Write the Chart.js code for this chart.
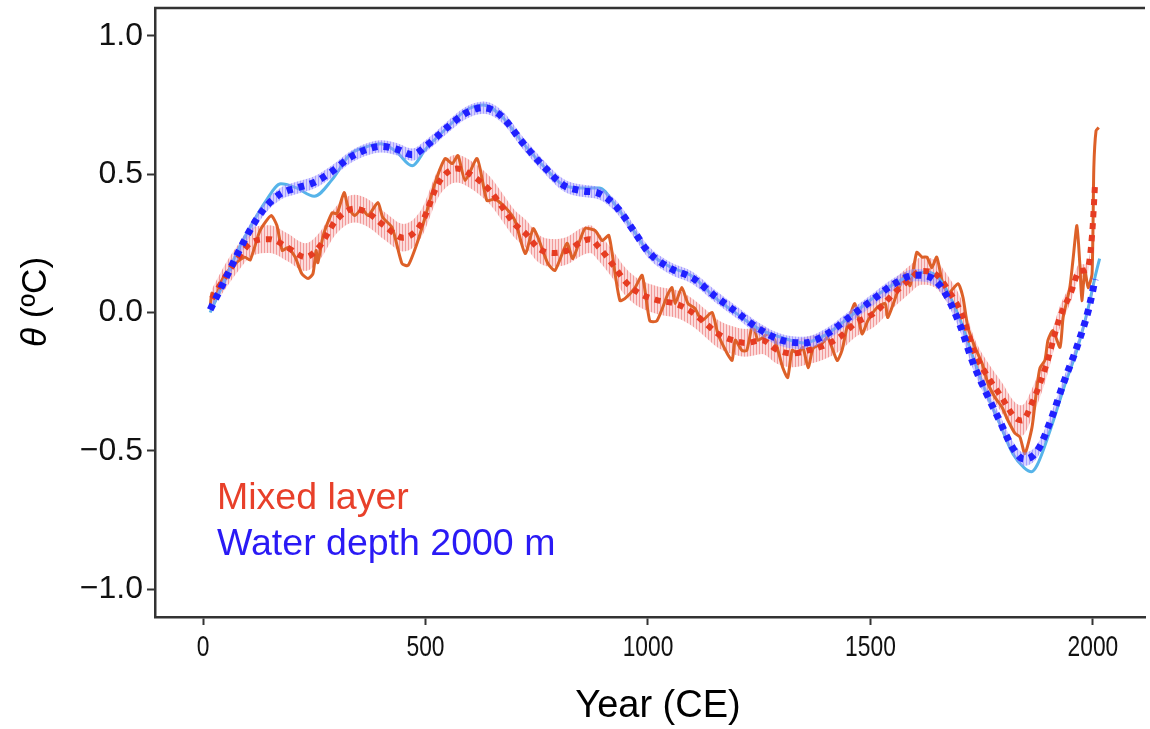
<!DOCTYPE html>
<html>
<head>
<meta charset="utf-8">
<script src="https://cdn.jsdelivr.net/npm/chart.js@4/dist/chart.umd.min.js"></script>
<style>
  html, body { margin: 0; padding: 0; background: #fff; }
  #wrap { width: 1150px; height: 729px; position: relative; }
</style>
</head>
<body>
<div id="wrap"><canvas id="thetaChart"></canvas></div>
<script>
// ---- data ----
const xTicks = [0, 500, 1000, 1500, 2000];
const yTicks = [-1.0, -0.5, 0.0, 0.5, 1.0];

// water depth 2000 m, smoothed (dotted blue) + band half width
const deepYears = [16, 50, 80, 110, 140, 175, 210, 250, 290, 330, 370, 400, 435, 470, 500, 550, 590, 630, 670, 720, 770, 810, 850, 890, 930, 970, 1000, 1050, 1100, 1150, 1200, 1250, 1300, 1350, 1400, 1450, 1500, 1550, 1600, 1630, 1660, 1700, 1730, 1760, 1790, 1820, 1845, 1875, 1905, 1935, 1965, 1990, 2005];
const deepSmooth = [0.01, 0.12, 0.22, 0.31, 0.38, 0.43, 0.45, 0.47, 0.51, 0.56, 0.59, 0.60, 0.59, 0.57, 0.60, 0.67, 0.72, 0.74, 0.71, 0.61, 0.52, 0.46, 0.44, 0.43, 0.38, 0.29, 0.22, 0.16, 0.125, 0.06, 0.0, -0.06, -0.10, -0.11, -0.08, -0.02, 0.04, 0.10, 0.135, 0.13, 0.09, -0.04, -0.18, -0.29, -0.39, -0.49, -0.53, -0.50, -0.39, -0.25, -0.12, 0.01, 0.12];
const deepSpread = [0.01, 0.018, 0.022, 0.022, 0.022, 0.022, 0.022, 0.022, 0.022, 0.022, 0.022, 0.022, 0.022, 0.022, 0.022, 0.022, 0.022, 0.022, 0.022, 0.022, 0.022, 0.022, 0.022, 0.022, 0.022, 0.022, 0.022, 0.022, 0.022, 0.022, 0.022, 0.022, 0.022, 0.022, 0.022, 0.022, 0.022, 0.022, 0.022, 0.022, 0.022, 0.022, 0.022, 0.022, 0.022, 0.024, 0.024, 0.024, 0.022, 0.018, 0.014, 0.01, 0.008];

// water depth 2000 m, raw (light blue)
const deepRawYears = [16, 50, 80, 110, 140, 175, 210, 250, 290, 330, 370, 400, 435, 470, 500, 550, 590, 630, 670, 720, 770, 810, 850, 890, 930, 970, 1000, 1050, 1100, 1150, 1200, 1250, 1300, 1350, 1400, 1450, 1500, 1550, 1600, 1630, 1660, 1700, 1730, 1760, 1790, 1820, 1845, 1862, 1875, 1905, 1935, 1965, 1990, 2005, 2015];
const deepRaw = [0.0, 0.12, 0.23, 0.32, 0.40, 0.465, 0.45, 0.42, 0.48, 0.57, 0.60, 0.61, 0.58, 0.53, 0.59, 0.67, 0.73, 0.75, 0.71, 0.61, 0.52, 0.46, 0.45, 0.45, 0.38, 0.29, 0.22, 0.165, 0.13, 0.055, -0.005, -0.06, -0.09, -0.11, -0.08, -0.02, 0.045, 0.10, 0.14, 0.145, 0.11, -0.02, -0.16, -0.29, -0.40, -0.51, -0.56, -0.575, -0.55, -0.42, -0.27, -0.13, 0.02, 0.13, 0.195];

// mixed layer, smoothed (dotted red) + band half width
const mixYears = [20, 50, 80, 110, 150, 190, 230, 260, 300, 340, 370, 410, 450, 490, 530, 570, 600, 645, 675, 700, 725, 755, 790, 820, 850, 870, 890, 920, 950, 980, 1020, 1065, 1100, 1130, 1160, 1190, 1220, 1256, 1290, 1325, 1360, 1395, 1430, 1465, 1510, 1550, 1585, 1615, 1645, 1675, 1705, 1735, 1765, 1795, 1825, 1840, 1865, 1895, 1925, 1950, 1970, 1987, 1998, 2005];
const mixSmooth = [0.05, 0.13, 0.20, 0.255, 0.265, 0.235, 0.20, 0.235, 0.335, 0.375, 0.36, 0.31, 0.27, 0.32, 0.47, 0.52, 0.50, 0.44, 0.375, 0.32, 0.285, 0.23, 0.215, 0.225, 0.255, 0.265, 0.235, 0.175, 0.11, 0.07, 0.045, 0.03, 0.0, -0.04, -0.08, -0.10, -0.11, -0.10, -0.135, -0.148, -0.137, -0.12, -0.09, -0.04, 0.0, 0.065, 0.115, 0.15, 0.14, 0.08, -0.005, -0.148, -0.235, -0.307, -0.38, -0.39, -0.32, -0.19, -0.02, 0.07, 0.15, 0.155, 0.28, 0.47];
const mixSpread = [0.035, 0.045, 0.048, 0.05, 0.05, 0.05, 0.05, 0.05, 0.05, 0.05, 0.05, 0.05, 0.05, 0.05, 0.05, 0.05, 0.05, 0.05, 0.05, 0.05, 0.05, 0.05, 0.05, 0.05, 0.05, 0.05, 0.05, 0.05, 0.05, 0.05, 0.05, 0.05, 0.05, 0.05, 0.05, 0.05, 0.05, 0.05, 0.05, 0.05, 0.05, 0.05, 0.05, 0.05, 0.05, 0.05, 0.05, 0.05, 0.05, 0.05, 0.05, 0.05, 0.052, 0.055, 0.055, 0.055, 0.052, 0.048, 0.04, 0.032, 0.025, 0.018, 0.01, 0.005];

// mixed layer, raw (orange)
const mixRawYears = [16, 20, 28, 40, 56, 75, 94, 106, 128, 153, 166, 178, 191, 207, 222, 236, 247, 254, 258, 270, 290, 301, 317, 326, 341, 357, 371, 393, 404, 425, 447, 461, 481, 499, 521, 544, 560, 573, 589, 616, 638, 656, 679, 701, 724, 742, 753, 775, 791, 818, 831, 858, 881, 897, 912, 926, 937, 948, 971, 987, 1004, 1020, 1045, 1054, 1061, 1076, 1090, 1106, 1121, 1144, 1157, 1178, 1189, 1196, 1211, 1222, 1236, 1247, 1270, 1285, 1303, 1314, 1324, 1337, 1348, 1360, 1371, 1391, 1404, 1425, 1436, 1449, 1465, 1481, 1494, 1515, 1533, 1539, 1562, 1578, 1589, 1604, 1616, 1627, 1638, 1649, 1661, 1674, 1697, 1708, 1719, 1735, 1751, 1764, 1780, 1796, 1809, 1825, 1836, 1847, 1863, 1874, 1881, 1892, 1899, 1910, 1926, 1933, 1948, 1955, 1964, 1971, 1975, 1982, 1989, 1998, 2002, 2007, 2013];
const mixRaw = [0.02, 0.07, 0.05, 0.11, 0.15, 0.18, 0.20, 0.19, 0.296, 0.35, 0.314, 0.224, 0.235, 0.20, 0.14, 0.123, 0.14, 0.224, 0.18, 0.278, 0.36, 0.357, 0.433, 0.38, 0.35, 0.375, 0.35, 0.397, 0.343, 0.307, 0.177, 0.17, 0.25, 0.343, 0.466, 0.556, 0.538, 0.567, 0.477, 0.556, 0.404, 0.41, 0.38, 0.332, 0.213, 0.303, 0.27, 0.177, 0.152, 0.25, 0.195, 0.303, 0.296, 0.26, 0.278, 0.14, 0.043, 0.05, 0.09, 0.134, -0.03, -0.03, 0.068, 0.09, 0.032, 0.09, 0.032, 0.014, -0.03, 0.0, -0.077, -0.148, -0.173, -0.10, -0.137, -0.137, -0.036, -0.10, -0.077, -0.10, -0.20, -0.235, -0.137, -0.148, -0.126, -0.20, -0.13, -0.112, -0.09, -0.173, -0.137, -0.04, 0.032, -0.077, -0.03, 0.018, 0.032, -0.018, 0.08, 0.14, 0.097, 0.217, 0.20, 0.20, 0.162, 0.20, 0.115, 0.068, 0.104, 0.054, -0.054, -0.126, -0.184, -0.256, -0.307, -0.343, -0.39, -0.437, -0.45, -0.51, -0.415, -0.27, -0.20, -0.173, -0.10, -0.065, -0.126, -0.018, 0.09, 0.188, 0.314, 0.162, 0.043, 0.152, 0.09, 0.14, 0.523, 0.657, 0.668];

// ---- helpers ----
function pts(xs, ys) {
    return xs.map((x, i) => ({x: x, y: ys[i]}));
}
function shifted(xs, ys, spread, sign) {
    return xs.map((x, i) => ({x: x, y: ys[i] + sign * spread[i]}));
}

// hatched band like the original
function hatch(base, stripe) {
    const c = document.createElement('canvas');
    c.width = 3; c.height = 4;
    const g = c.getContext('2d');
    g.fillStyle = base;
    g.fillRect(0, 0, 3, 4);
    g.fillStyle = stripe;
    g.fillRect(0, 0, 1, 4);
    return g.createPattern(c, 'repeat');
}

const pinkBand = hatch('rgba(244,160,160,0.38)', 'rgba(234,100,100,0.55)');
const blueBand = hatch('rgba(165,155,255,0.45)', 'rgba(130,120,255,0.55)');

const FONT = "'Liberation Sans', Arial, sans-serif";
const AXIS = '#333333';

const textPlugin = {
    id: 'textPlugin',
    afterDraw(chart) {
        const ctx = chart.ctx;
        const a = chart.chartArea;
        ctx.save();
        // top frame line
        ctx.strokeStyle = AXIS;
        ctx.lineWidth = 2.5;
        ctx.beginPath();
        ctx.moveTo(a.left - 1, a.top);
        ctx.lineTo(a.right, a.top);
        ctx.stroke();

        // y title: italic theta + (ºC)
        ctx.translate(36, 302);
        ctx.rotate(-Math.PI / 2);
        ctx.fillStyle = '#000';
        ctx.textBaseline = 'middle';
        ctx.textAlign = 'left';
        ctx.font = 'italic 35px ' + FONT;
        const w1 = ctx.measureText('θ').width;
        ctx.font = '35px ' + FONT;
        const w2 = ctx.measureText(' (ºC)').width;
        const x0 = -(w1 + w2) / 2;
        ctx.font = 'italic 35px ' + FONT;
        ctx.fillText('θ', x0, 0);
        ctx.font = '35px ' + FONT;
        ctx.fillText(' (ºC)', x0 + w1, 0);
        ctx.restore();

        // x tick labels, condensed like the original
        ctx.save();
        ctx.fillStyle = '#111';
        ctx.font = '30px ' + FONT;
        ctx.textAlign = 'center';
        ctx.textBaseline = 'middle';
        xTicks.forEach(v => {
            const px = chart.scales.x.getPixelForValue(v);
            ctx.save();
            ctx.translate(px, 648);
            ctx.scale(0.76, 1);
            ctx.fillText(String(v), 0, 0);
            ctx.restore();
        });

        // x title
        ctx.fillStyle = '#000';
        ctx.font = '38px ' + FONT;
        ctx.fillText('Year (CE)', (a.left + a.right) / 2 + 8, 707);

        // in-plot legend
        ctx.textAlign = 'left';
        ctx.textBaseline = 'alphabetic';
        ctx.font = '37.5px ' + FONT;
        ctx.fillStyle = '#e8402a';
        ctx.fillText('Mixed layer', a.left + 62, 509);
        ctx.fillStyle = '#2a1af5';
        ctx.fillText('Water depth 2000 m', a.left + 62, 555);
        ctx.restore();
    }
};

Chart.defaults.font.family = FONT;

const chart = new Chart(document.getElementById('thetaChart'), {
    type: 'line',
    data: {
        datasets: [{
            label: 'Water depth 2000 m (smoothed)',
            data: pts(deepYears, deepSmooth),
            borderColor: '#2020ff',
            borderWidth: 7,
            borderDash: [6, 6],
            borderCapStyle: 'butt',
            cubicInterpolationMode: 'monotone',
            pointRadius: 0,
            fill: false
        }, {
            label: 'Mixed layer (smoothed)',
            data: pts(mixYears, mixSmooth),
            borderColor: '#e63c22',
            borderWidth: 6,
            borderDash: [6, 6],
            borderCapStyle: 'butt',
            cubicInterpolationMode: 'monotone',
            pointRadius: 0,
            fill: false
        }, {
            label: 'deep hi',
            data: shifted(deepYears, deepSmooth, deepSpread, 1),
            borderWidth: 0,
            borderColor: 'rgba(0,0,0,0)',
            backgroundColor: blueBand,
            cubicInterpolationMode: 'monotone',
            pointRadius: 0,
            fill: 3
        }, {
            label: 'deep lo',
            data: shifted(deepYears, deepSmooth, deepSpread, -1),
            borderWidth: 0,
            borderColor: 'rgba(0,0,0,0)',
            cubicInterpolationMode: 'monotone',
            pointRadius: 0,
            fill: false
        }, {
            label: 'Water depth 2000 m',
            data: pts(deepRawYears, deepRaw),
            borderColor: '#56b4e9',
            borderWidth: 3,
            cubicInterpolationMode: 'monotone',
            pointRadius: 0,
            fill: false
        }, {
            label: 'Mixed layer',
            data: pts(mixRawYears, mixRaw),
            borderColor: '#dd6028',
            borderWidth: 3,
            tension: 0.2,
            pointRadius: 0,
            fill: false
        }, {
            label: 'mix hi',
            data: shifted(mixYears, mixSmooth, mixSpread, 1),
            borderWidth: 0,
            borderColor: 'rgba(0,0,0,0)',
            backgroundColor: pinkBand,
            cubicInterpolationMode: 'monotone',
            pointRadius: 0,
            fill: 7
        }, {
            label: 'mix lo',
            data: shifted(mixYears, mixSmooth, mixSpread, -1),
            borderWidth: 0,
            borderColor: 'rgba(0,0,0,0)',
            cubicInterpolationMode: 'monotone',
            pointRadius: 0,
            fill: false
        }]
    },
    options: {
        responsive: true,
        maintainAspectRatio: false,
        animation: false,
        layout: {
            padding: {top: 8, right: 5, left: 0, bottom: 0}
        },
        plugins: {
            legend: {display: false},
            tooltip: {enabled: false}
        },
        scales: {
            x: {
                type: 'linear',
                min: -108,
                max: 2117,
                afterFit(scale) {
                    scale.height = 112;
                    scale.paddingLeft = 0;
                    scale.paddingRight = 0;
                },
                afterBuildTicks(scale) { scale.ticks = xTicks.map(v => ({value: v})); },
                border: {color: AXIS, width: 2.5},
                grid: {drawOnChartArea: false, tickLength: 8, tickColor: AXIS, tickWidth: 2},
                ticks: {display: false}
            },
            y: {
                min: -1.1,
                max: 1.1,
                afterFit(scale) {
                    scale.width = 155;
                    scale.paddingTop = 0;
                    scale.paddingBottom = 0;
                },
                afterBuildTicks(scale) { scale.ticks = yTicks.map(v => ({value: v})); },
                border: {color: AXIS, width: 2.5},
                grid: {drawOnChartArea: false, tickLength: 8, tickColor: AXIS, tickWidth: 2},
                ticks: {
                    color: '#111',
                    padding: 4,
                    font: {size: 32},
                    callback: v => v.toFixed(1).replace('-', '\u2212')
                }
            }
        }
    },
    plugins: [textPlugin]
});
</script>
</body>
</html>
